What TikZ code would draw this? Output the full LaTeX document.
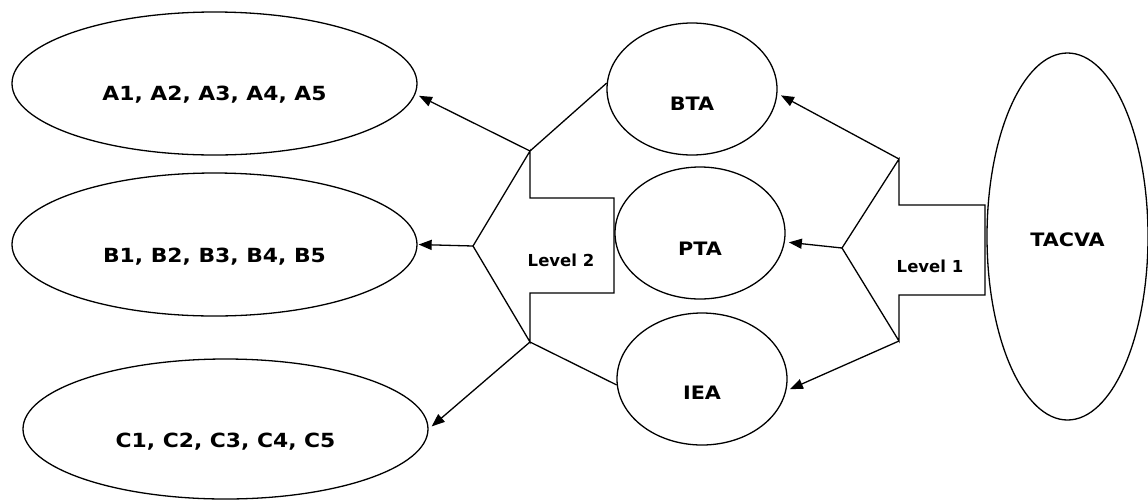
\documentclass[tikz,border=0pt]{standalone}
\usepackage{fontspec}
\setmainfont{DejaVu Sans}
\newfontfamily\widefont[FakeStretch=1.12]{DejaVu Sans}
\usetikzlibrary{shapes.geometric,arrows.meta}
\begin{document}
\begin{tikzpicture}[x=1pt,y=-1pt,
  oval/.style={draw,ellipse,line width=1.3pt,inner sep=0pt},
  big/.style={font=\widefont\bfseries\fontsize{19.5}{23}\selectfont},
  small/.style={font=\widefont\bfseries\fontsize{18.5}{22}\selectfont},
  mid/.style={font=\bfseries\fontsize{16.5}{20}\selectfont},
  conn/.style={line width=1.3pt},
  arr/.style={conn,-{Triangle[length=13pt,width=10pt]},shorten >=4pt},
  bigarrow/.style={line width=1.3pt,line join=miter}]
\useasboundingbox (0,0) rectangle (1148,499);
% left ellipses
\node[oval,minimum width=405pt,minimum height=143pt,label={[big,yshift=-11.5pt]center:{A1, A2, A3, A4, A5}}] (A) at (214.5,83.5) {};
\node[oval,minimum width=405pt,minimum height=143pt,label={[big,yshift=-12pt]center:{B1, B2, B3, B4, B5}}] (B) at (214.5,244.5) {};
\node[oval,minimum width=405pt,minimum height=140pt,label={[big,yshift=-12.5pt]center:{C1, C2, C3, C4, C5}}] (C) at (225.5,429) {};
% middle ellipses
\node[oval,minimum width=170pt,minimum height=132pt,label={[small,yshift=-15pt]center:{BTA}}] (BTA) at (692,89) {};
\node[oval,minimum width=170pt,minimum height=132pt,label={[small,yshift=-15.5pt]center:{PTA}}] (PTA) at (700,233) {};
\node[oval,minimum width=170pt,minimum height=132pt,label={[small,yshift=-14pt]center:{IEA}}] (IEA) at (702,379) {};
% right ellipse
\node[oval,minimum width=161pt,minimum height=367pt,label={[small,yshift=-3.5pt]center:{TACVA}}] (T) at (1067.5,236.5) {};
% Level 2 arrow shape
\coordinate (L2t) at (530,151);
\coordinate (L2p) at (473,246);
\coordinate (L2b) at (530,342);
\draw[bigarrow] (L2t) -- (530,198) -- (614,198) -- (614,293) -- (530,293) -- (L2b) -- (L2p) -- cycle;
\node[mid] (L2) at (561,260) {Level 2};
% Level 1 arrow shape
\coordinate (L1t) at (899,159);
\coordinate (L1p) at (842,248);
\coordinate (L1b) at (899,341);
\draw[bigarrow] (L1t) -- (899,205) -- (985,205) -- (985,295) -- (899,295) -- (L1b) -- (L1p) -- cycle;
\node[mid] (L1) at (930,266) {Level 1};
% connectors level 2
\draw[conn] (L2t) -- (BTA.176);
\draw[conn] (L2b) -- (IEA.184);
\draw[arr] (L2t) -- (A.357);
\draw[arr,shorten >=1pt] (L2p) -- (B.east);
\draw[arr] (L2b) -- (C.east);
% connectors level 1
\draw[arr] (L1t) -- (BTA.357);
\draw[arr] (L1p) -- (PTA.354);
\draw[arr] (L1b) -- (IEA.352);
\end{tikzpicture}
\end{document}
